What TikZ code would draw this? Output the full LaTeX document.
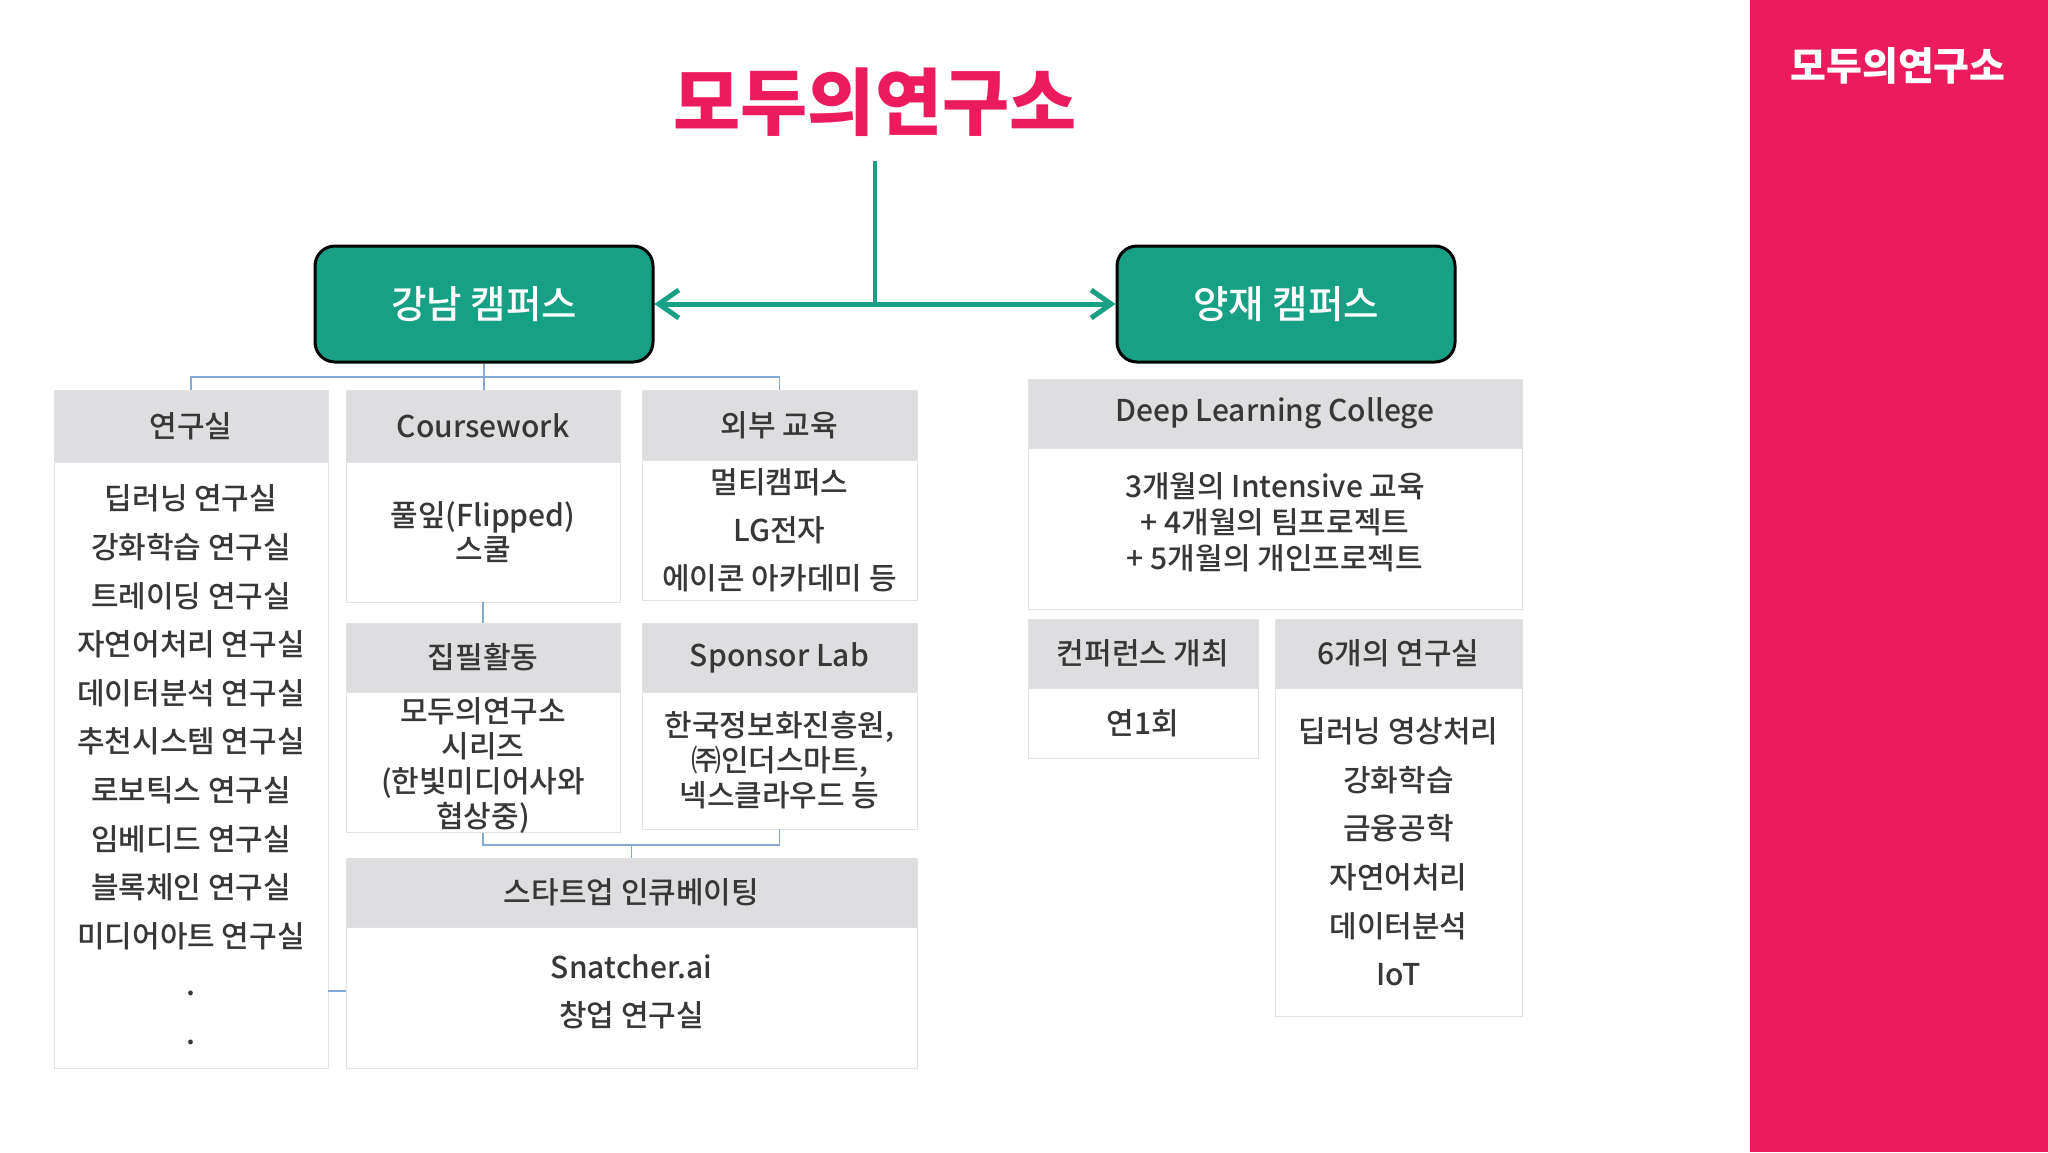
\documentclass[tikz,border=0pt]{standalone}
\usepackage{fontspec}
\setmainfont{Noto Sans CJK KR}
\newfontfamily\medfont{Noto Sans CJK KR Medium}
\usetikzlibrary{arrows.meta}
\definecolor{pinkc}{RGB}{236,27,94}
\definecolor{tealc}{RGB}{24,160,133}
\definecolor{hdrgray}{RGB}{222,222,224}
\definecolor{bordgray}{RGB}{226,226,228}
\definecolor{txtc}{RGB}{55,55,55}
\definecolor{connc}{RGB}{130,170,210}
\begin{document}
\begin{tikzpicture}[x=1pt,y=-1pt,
  campus/.style={draw=black, line width=3pt, fill=tealc, rounded corners=20pt,
    minimum width=338pt, minimum height=116pt, text=white, inner sep=0pt,
    font=\medfont\fontsize{38.5}{44}\selectfont},
  hdr/.style={fill=hdrgray, draw=bordgray, line width=1pt, inner sep=0pt, outer sep=0pt,
    text=txtc, font=\medfont\fontsize{30}{36}\selectfont},
  bodyb/.style={fill=white, draw=bordgray, line width=1pt, inner sep=0pt, outer sep=0pt,
    anchor=north, text=txtc, align=center},
  wide/.style={font=\medfont\fontsize{30}{48.6}\selectfont},
  tight/.style={font=\medfont\fontsize{30}{35}\selectfont},
  conn/.style={draw=connc, line width=1.5pt},
  arr/.style={draw=tealc, line width=5pt,
    {Straight Barb[length=20pt,width=28pt]}-{Straight Barb[length=20pt,width=28pt]}},
  stem/.style={draw=tealc, line width=4pt}
]
\path[use as bounding box, fill=white] (0,0) rectangle (2048,1152);

% sidebar
\node[fill=pinkc, minimum width=298pt, minimum height=1152pt, inner sep=0pt, anchor=north west] (side) at (1750,0) {};
\node[text=white, font=\fontsize{39}{44}\selectfont\bfseries] (sidetitle) at (1898,66) {모두의연구소};

% title
\node[text=pinkc, font=\fontsize{73}{84}\selectfont\bfseries, inner sep=0pt] (title) at (875,102) {모두의연구소};

% campuses
\node[campus] (gn) at (484,304) {강남 캠퍼스};
\node[campus] (yj) at (1286,304) {양재 캠퍼스};
\coordinate (tl) at (875,161);
\coordinate (jn) at (875,304);
\draw[stem] (tl) -- (jn);
\draw[arr] (gn.east) -- (yj.west);

% Gangnam boxes
\node[hdr, minimum width=274pt, minimum height=72pt] (labh) at (191,426) {연구실};
\node[bodyb, wide, minimum width=274pt, minimum height=606pt] (labb) at (labh.south)
  {딥러닝 연구실\\강화학습 연구실\\트레이딩 연구실\\자연어처리 연구실\\데이터분석 연구실\\추천시스템 연구실\\로보틱스 연구실\\임베디드 연구실\\블록체인 연구실\\미디어아트 연구실\\.\\.};

\node[hdr, minimum width=274pt, minimum height=72pt] (cwh) at (483,426) {Coursework};
\node[bodyb, font=\medfont\fontsize{30}{34}\selectfont, minimum width=274pt, minimum height=140pt] (cwb) at (cwh.south)
  {풀잎(Flipped)\\스쿨};

\node[hdr, minimum width=275pt, minimum height=70pt] (exth) at (779.5,425) {외부 교육};
\node[bodyb, font=\medfont\fontsize{30}{48}\selectfont, minimum width=275pt, minimum height=140pt] (extb) at (exth.south)
  {멀티캠퍼스\\LG전자\\에이콘 아카데미 등};

\node[hdr, minimum width=274pt, minimum height=69pt] (wrh) at (483,657.5) {집필활동};
\node[bodyb, tight, minimum width=274pt, minimum height=140pt] (wrb) at (wrh.south)
  {\rule{0pt}{30pt}모두의연구소\\시리즈\\(한빛미디어사와\\협상중)};

\node[hdr, minimum width=275pt, minimum height=69pt] (sph) at (779.5,657.5) {Sponsor Lab};
\node[bodyb, tight, minimum width=275pt, minimum height=137pt] (spb) at (sph.south)
  {한국정보화진흥원,\\㈜인더스마트,\\넥스클라우드 등};

\node[hdr, minimum width=571pt, minimum height=69pt] (sth) at (631.5,892.5) {스타트업 인큐베이팅};
\node[bodyb, wide, minimum width=571pt, minimum height=141pt] (stb) at (sth.south)
  {Snatcher.ai\\창업 연구실\rule[-14pt]{0pt}{0pt}};

% Yangjae boxes
\node[hdr, minimum width=494pt, minimum height=69pt] (dlch) at (1275,413.5) {Deep Learning College};
\node[bodyb, font=\medfont\fontsize{30}{36}\selectfont, minimum width=494pt, minimum height=161pt] (dlcb) at (dlch.south)
  {3개월의 Intensive 교육\\+ 4개월의 팀프로젝트\\+ 5개월의 개인프로젝트\rule[-14pt]{0pt}{0pt}};

\node[hdr, minimum width=230pt, minimum height=69pt] (confh) at (1143,653.5) {컨퍼런스 개최};
\node[bodyb, wide, minimum width=230pt, minimum height=70pt] (confb) at (confh.south) {연1회};

\node[hdr, minimum width=247pt, minimum height=69pt] (sixh) at (1398.5,653.5) {6개의 연구실};
\node[bodyb, wide, minimum width=247pt, minimum height=328pt] (sixb) at (sixh.south)
  {딥러닝 영상처리\\강화학습\\금융공학\\자연어처리\\데이터분석\\IoT};

% connectors
\coordinate (bus1) at (0,377);
\coordinate (bus2) at (0,845);
\coordinate (lk) at (0,991);
\draw[conn] (gn.south) -- (gn.south |- cwh.north);
\draw[conn] (labh.north) -- (labh.north |- bus1) -- (exth.north |- bus1) -- (exth.north);
\draw[conn] (cwb.south) -- (wrh.north);
\draw[conn] (wrb.south) -- (wrb.south |- bus2) -- (spb.south |- bus2) -- (spb.south);
\draw[conn] (sth.north |- bus2) -- (sth.north);
\draw[conn] (labb.east |- lk) -- (stb.west |- lk);
\end{tikzpicture}
\end{document}
